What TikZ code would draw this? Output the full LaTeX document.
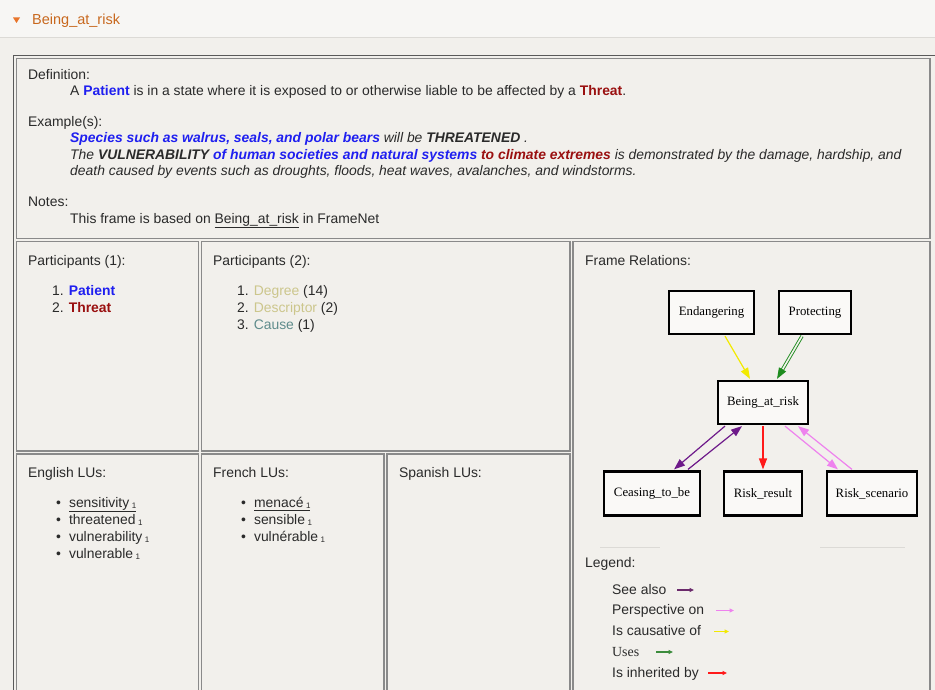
\documentclass[tikz,border=0pt]{standalone}
\usepackage{fontspec}
\setmainfont{Liberation Sans}
\newfontfamily\gvfont{Liberation Serif}
\usetikzlibrary{arrows.meta,calc}
\definecolor{bg}{HTML}{F2F0EC}
\definecolor{hdrbg}{HTML}{F7F6F4}
\definecolor{hline}{HTML}{DCDAD6}
\definecolor{cellc}{HTML}{8A8A8A}
\definecolor{outerc}{HTML}{5A5A5A}
\definecolor{tdark}{HTML}{2A2A2A}
\definecolor{orng}{HTML}{C8681E}
\definecolor{orngtri}{HTML}{E8742A}
\definecolor{blueT}{HTML}{1F1FF0}
\definecolor{redT}{HTML}{9A1010}
\definecolor{degc}{HTML}{CCC68C}
\definecolor{causec}{HTML}{5F8C8C}
\definecolor{purp}{HTML}{6E1A8A}
\definecolor{viol}{HTML}{EE82EE}
\definecolor{grn}{HTML}{1E8C1E}
\definecolor{yel}{HTML}{F2EA00}
\definecolor{redA}{HTML}{FF1A1A}
\definecolor{legpurp}{HTML}{6B2A6B}
\definecolor{leggrn}{HTML}{3C8C3C}
\newcommand{\lusub}{\hspace{2.5pt}\raisebox{-1.5pt}{\fontsize{8}{8}\selectfont 1}}
\begin{document}
\begin{tikzpicture}[x=1pt,y=-1pt,
  txt/.style={anchor=base west, inner sep=0pt, font=\fontsize{13.9}{16}\selectfont, text=tdark},
  cell/.style={draw=cellc, line width=1.2pt},
  gv/.style={draw=black, line width=2.2pt, fill=bg!40!white, inner sep=0pt, minimum height=43pt, font=\gvfont\fontsize{12.8}{14}\selectfont, text=black},
  tip/.style={-{Triangle[length=11pt,width=8pt]}},
  gedge/.style={line width=1.2pt, tip},
  legarrow/.style={line width=1.1pt, -{Triangle[length=4.5pt,width=4pt]}}
]
\useasboundingbox (0,0) rectangle (935,690);
\fill[bg] (0,0) rectangle (935,690);
\fill[hdrbg] (0,0) rectangle (935,38);
\draw[hline, line width=1pt] (0,38) -- (935,38);
% header
\fill[orngtri] (13,17.5) -- (20,17.5) -- (16.5,23) -- cycle;
\node[txt, font=\fontsize{14.5}{16}\selectfont, text=orng] (hdr) at (32,25) {Being\_at\_risk};
% outer frame and cells
\draw[outerc, line width=1.4pt] (13.5,55.5) rectangle (945,700);
\draw[cell] (16.5,58.5) rectangle (930,238.5);
\draw[cell] (16.5,241.5) rectangle (198.5,451);
\draw[cell] (201.5,241.5) rectangle (570,451);
\draw[cell] (573,241.5) rectangle (930,700);
\draw[cell] (16.5,454) rectangle (198.5,700);
\draw[cell] (201.5,454) rectangle (384,700);
\draw[cell] (387,454) rectangle (570,700);
% definition
\node[txt] (defh) at (28,80) {Definition:};
\node[txt] (defl) at (70,96) {A \textcolor{blueT}{\textbf{Patient}} is in a state where it is exposed to or otherwise liable to be affected by a \textcolor{redT}{\textbf{Threat}}.};
\node[txt] (exh) at (28,127) {Example(s):};
\node[txt] (ex1) at (70,143) {\itshape\textbf{\textcolor{blueT}{Species such as walrus, seals, and polar bears}} will be \textbf{THREATENED} .};
\node[txt] (ex2) at (70,160) {\itshape The \textbf{VULNERABILITY} \textbf{\textcolor{blueT}{of human societies and natural systems}} \textbf{\textcolor{redT}{to climate extremes}} is demonstrated by the damage, hardship, and};
\node[txt] (ex3) at (70,176) {\itshape death caused by events such as droughts, floods, heat waves, avalanches, and windstorms.};
\node[txt] (noteh) at (28,207) {Notes:};
\node[txt] (notel) at (70,223) {This frame is based on \underline{Being\_at\_risk} in FrameNet};
% participants 1
\node[txt] (p1h) at (28,265) {Participants (1):};
\node[txt] (p1a) at (52,295) {1.\hspace{5pt}\textcolor{blueT}{\textbf{Patient}}};
\node[txt] (p1b) at (52,312) {2.\hspace{5pt}\textcolor{redT}{\textbf{Threat}}};
% participants 2
\node[txt] (p2h) at (213,265) {Participants (2):};
\node[txt] (p2a) at (237,295) {1.\hspace{5pt}\textcolor{degc}{Degree} (14)};
\node[txt] (p2b) at (237,312) {2.\hspace{5pt}\textcolor{degc}{Descriptor} (2)};
\node[txt] (p2c) at (237,329) {3.\hspace{5pt}\textcolor{causec}{Cause} (1)};
% LUs
\node[txt] (enh) at (28,477) {English LUs:};
\node[txt] (en1) at (56,507) {\textbullet\hspace{8pt}\underline{sensitivity\lusub}};
\node[txt] (en2) at (56,524) {\textbullet\hspace{8pt}threatened\lusub};
\node[txt] (en3) at (56,541) {\textbullet\hspace{8pt}vulnerability\lusub};
\node[txt] (en4) at (56,558) {\textbullet\hspace{8pt}vulnerable\lusub};
\node[txt] (frh) at (213,477) {French LUs:};
\node[txt] (fr1) at (241,507) {\textbullet\hspace{8pt}\underline{menacé\lusub}};
\node[txt] (fr2) at (241,524) {\textbullet\hspace{8pt}sensible\lusub};
\node[txt] (fr3) at (241,541) {\textbullet\hspace{8pt}vulnérable\lusub};
\node[txt] (esh) at (399,477) {Spanish LUs:};
% frame relations
\node[txt] (frel) at (585,265) {Frame Relations:};
\node[gv, minimum width=85pt] (End) at (711.5,312.5) {Endangering};
\node[gv, minimum width=72pt] (Pro) at (815,312.5) {Protecting};
\node[gv, minimum width=90pt] (Bar) at (763,402.5) {Being\_at\_risk};
\node[gv, minimum width=96pt, minimum height=44pt] (Cea) at (652,493.5) {Ceasing\_to\_be};
\node[gv, minimum width=78pt, minimum height=44pt] (Rre) at (763,493.5) {Risk\_result};
\node[gv, minimum width=90pt, minimum height=44pt] (Rsc) at (872,493.5) {Risk\_scenario};
% edges
\draw[yel, gedge] ([xshift=13.5pt,yshift=-1pt]End.south) -- ([xshift=-13pt,yshift=1pt]Bar.north);
\coordinate (gs) at ([xshift=-13pt,yshift=-1pt]Pro.south);
\coordinate (ge) at ([xshift=14pt,yshift=1pt]Bar.north);
\draw[grn, line width=0.9pt, double=bg, double distance=1.6pt, shorten >=9pt] (gs) -- (ge);
\draw[grn, gedge] ($(ge)!11pt!(gs)$) -- (ge);
\draw[purp, gedge] ([xshift=-38pt,yshift=-1pt]Bar.south) -- ([xshift=22pt,yshift=1pt]Cea.north);
\draw[purp, gedge] ([xshift=36pt,yshift=1pt]Cea.north) -- ([xshift=-21pt,yshift=-1pt]Bar.south);
\draw[redA, gedge] ([yshift=-1pt]Bar.south) -- ([yshift=1pt]Rre.north);
\draw[viol, gedge] ([xshift=22pt,yshift=-1pt]Bar.south) -- ([xshift=-34pt,yshift=1pt]Rsc.north);
\draw[viol, gedge] ([xshift=-20pt,yshift=1pt]Rsc.north) -- ([xshift=35pt,yshift=-1pt]Bar.south);
% legend
\draw[hline, line width=0.8pt] (600,547) -- (660,547);
\draw[hline, line width=0.8pt] (820,547) -- (905,547);
\node[txt] (legh) at (585,567) {Legend:};
\node[txt] (l1) at (612,594) {See also};
\node[txt] (l2) at (612,614.5) {Perspective on};
\node[txt] (l3) at (612,635.5) {Is causative of};
\node[txt, font=\gvfont\fontsize{13.9}{16}\selectfont] (l4) at (612,656) {Uses};
\node[txt] (l5) at (612,677) {Is inherited by};
\coordinate (a1s) at (677,590); \coordinate (a1e) at (694,590);
\coordinate (a2s) at (716,610.5); \coordinate (a2e) at (734,610.5);
\coordinate (a3s) at (714,631.5); \coordinate (a3e) at (729,631.5);
\coordinate (a4s) at (656,652); \coordinate (a4e) at (673,652);
\coordinate (a5s) at (708,673); \coordinate (a5e) at (727,673);
\draw[legpurp, legarrow] (a1s) -- (a1e);
\draw[viol, legarrow] (a2s) -- (a2e);
\draw[yel, legarrow] (a3s) -- (a3e);
\draw[leggrn, legarrow] (a4s) -- (a4e);
\draw[redA, legarrow] (a5s) -- (a5e);
\end{tikzpicture}
\end{document}
